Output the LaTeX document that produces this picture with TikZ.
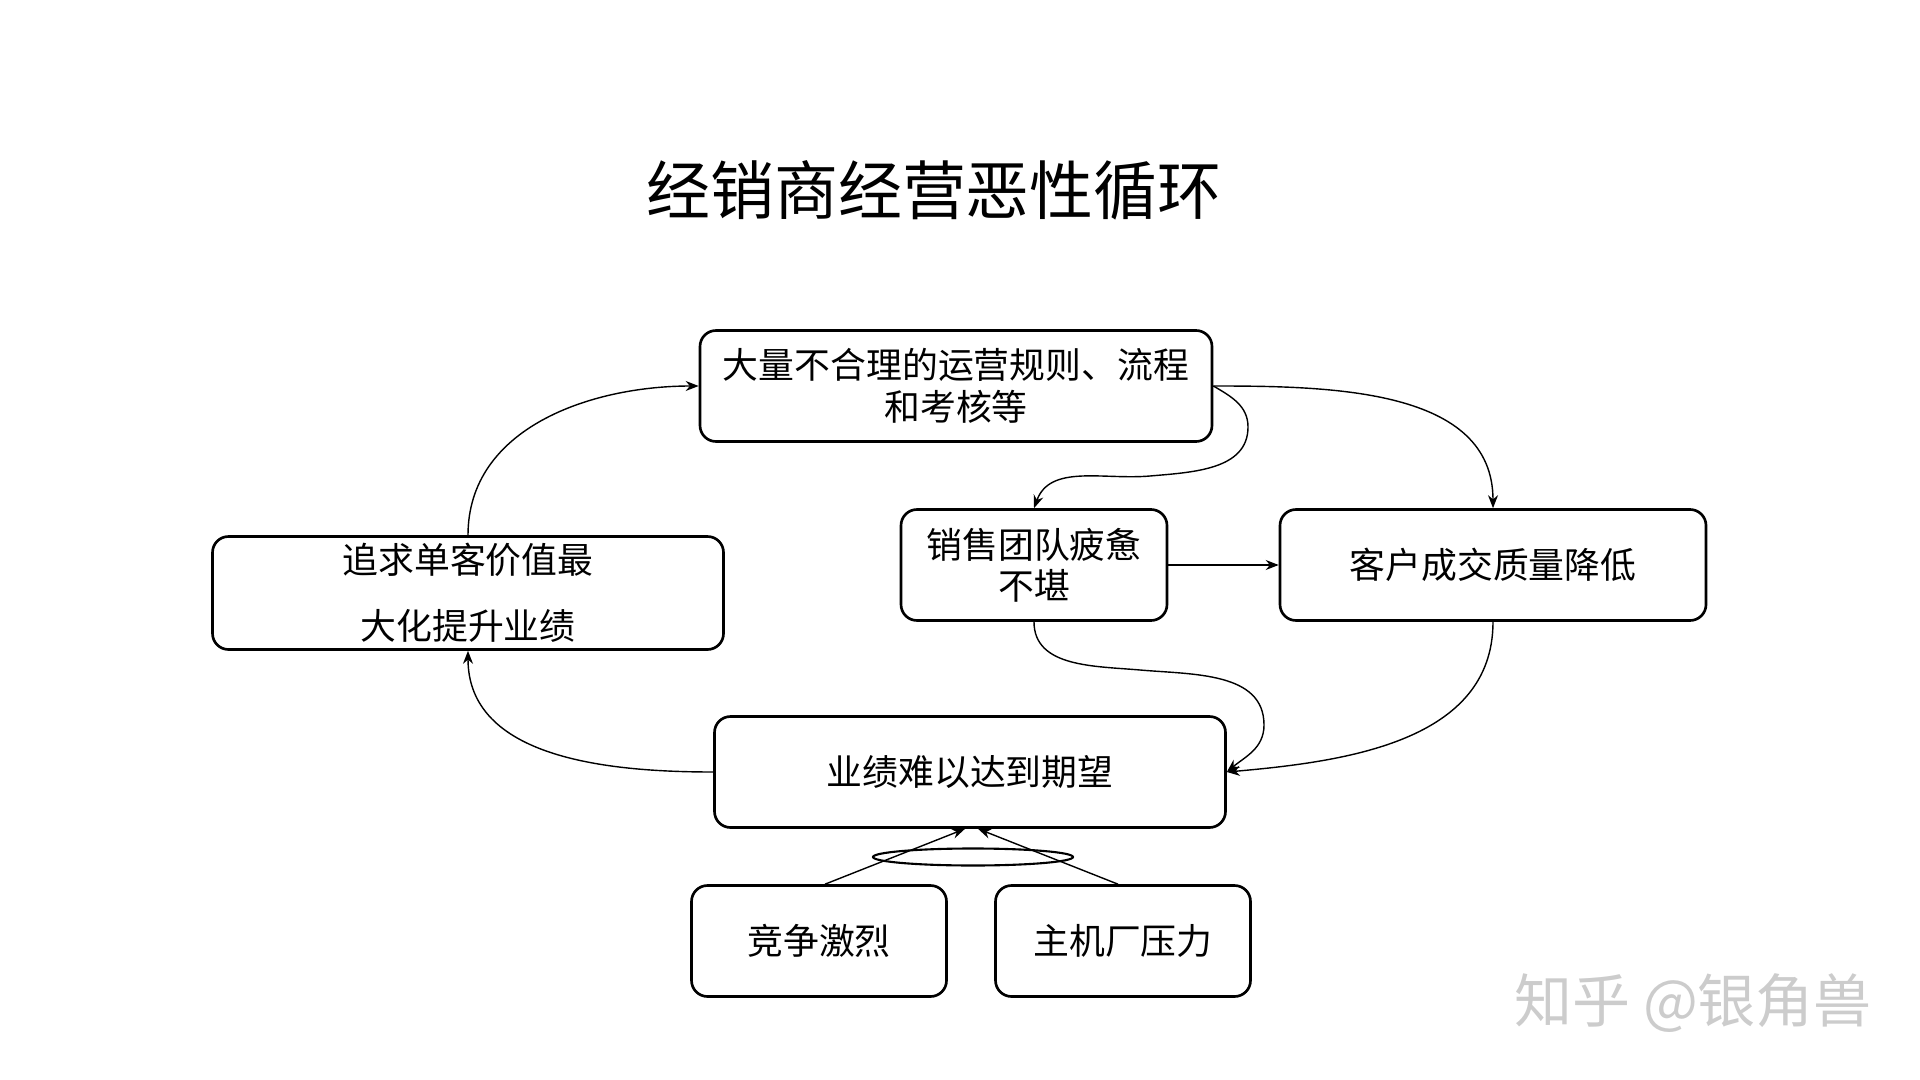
\documentclass[tikz,border=0pt]{standalone}
\usepackage{fontspec}
\newfontfamily\cjk{Noto Sans CJK SC}
\usetikzlibrary{shapes.geometric, arrows.meta}
\tikzset{>={Stealth[length=1.3mm, width=1mm]}}

\begin{document}
\begin{tikzpicture}[box/.style={draw, line width=0.75pt, rounded corners=0.16cm, align=center, inner sep=0pt, font=\cjk\fontsize{10.2}{11.8}\selectfont},
     link/.style={->, line width=0.4pt}]
     \useasboundingbox (0,0) rectangle (19.2,-10.8);
     \node[font=\cjk\fontsize{18.2}{20}\selectfont] (title) at (9.34,-1.90) {经销商经营恶性循环};
     \node[box, minimum width=5.12cm, minimum height=1.11cm] (rules) at (9.56,-3.86) {大量不合理的运营规则、流程\\和考核等};
     \node[box, minimum width=5.11cm, minimum height=1.13cm] (pursue) at (4.68,-5.93) {追求单客价值最\\[7pt]大化提升业绩};
     \node[box, minimum width=2.66cm, minimum height=1.11cm] (team) at (10.34,-5.65) {销售团队疲惫\\不堪};
     \node[box, minimum width=4.26cm, minimum height=1.11cm] (quality) at (14.93,-5.65) {客户成交质量降低};
     \node[box, minimum width=5.11cm, minimum height=1.11cm] (goal) at (9.70,-7.72) {业绩难以达到期望};
     \node[box, minimum width=2.55cm, minimum height=1.11cm] (compete) at (8.19,-9.41) {竞争激烈};
     \node[box, minimum width=2.55cm, minimum height=1.11cm] (oem) at (11.23,-9.41) {主机厂压力};
     \node[draw, ellipse, line width=0.6pt, minimum width=2cm, minimum height=0.17cm, inner sep=0pt] (andmark) at (9.73,-8.57) {};
     \node[text=gray!40, font=\cjk\fontsize{16.5}{18}\selectfont] (mark) at (16.93,-10.03) {知乎 @银角兽};
     \draw[link] (pursue.north) to[out=90, in=180] (rules.west);
     \draw[link] (rules.east) to[out=0, in=90] (quality.north);
     \draw[link] (rules.east) to[out=-30, in=90] (12.48,-4.27) to[out=-90, in=5] (11.5,-4.76) to[out=185, in=70] (team.north);
     \draw[link] (team.east) -- (quality.west);
     \draw[link] (team.south) to[out=-90, in=175] (11.4,-6.70) to[out=-5, in=90] (12.64,-7.25) to[out=-90, in=40] (goal.east);
     \draw[link] (quality.south) to[out=-90, in=5] (goal.east);
     \draw[link] (goal.west) to[out=180, in=-90] (pursue.south);
     \draw[link] ([xshift=0.06cm]compete.north) -- ([xshift=-0.05cm]goal.south);
     \draw[link] ([xshift=-0.05cm]oem.north) -- ([xshift=0.08cm]goal.south);
\end{tikzpicture}
\end{document}
